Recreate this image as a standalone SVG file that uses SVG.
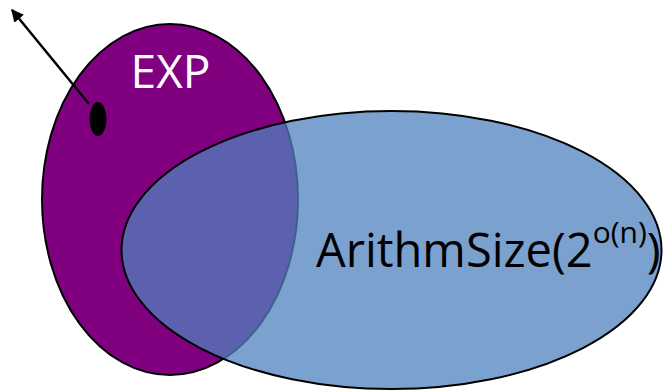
<svg xmlns="http://www.w3.org/2000/svg" width="663" height="392" viewBox="0 0 663 392">
<style>
.lbl{font-family:"Open Sans","Liberation Sans",sans-serif;}
</style>
<defs>
<marker id="ah" viewBox="0 0 10 10" refX="9" refY="5" markerWidth="5" markerHeight="5" orient="auto-start-reverse" markerUnits="strokeWidth">
<path d="M0,0 L10,5 L0,10 z" fill="#000"/>
</marker>
</defs>
<g id="exp">
<ellipse cx="170" cy="199.5" rx="128" ry="175.5" fill="#800080" stroke="#000" stroke-width="2"/>
<text class="lbl" x="170.5" y="88" font-size="46" fill="#fff" text-anchor="middle">EXP</text>
</g>
<g id="point">
<ellipse cx="98" cy="119" rx="8.5" ry="17" fill="#000"/>
</g>
<g id="arith">
<ellipse cx="391.5" cy="250" rx="270" ry="139" fill="#4F81BD" fill-opacity="0.75" stroke="#000" stroke-width="2"/>
<text class="lbl" x="316" y="267" font-size="47" fill="#000">ArithmSize(2<tspan font-size="30" dy="-24">o(n)</tspan><tspan dy="24">)</tspan></text>
</g>
<g id="connectors">
<line x1="89" y1="104" x2="12" y2="10" stroke="#000" stroke-width="2.5" marker-end="url(#ah)"/>
</g>
</svg>
